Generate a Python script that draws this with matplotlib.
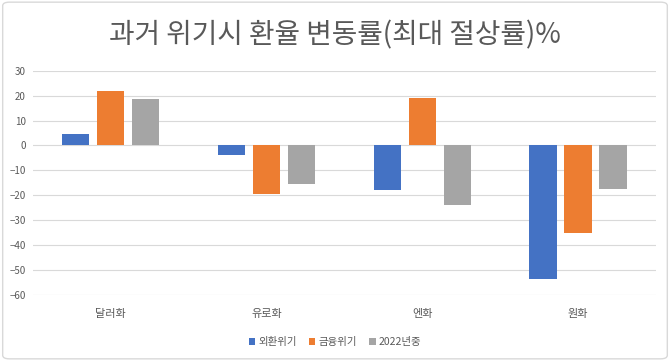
import numpy as np
import matplotlib.pyplot as plt
from matplotlib.patches import FancyBboxPatch

plt.rcParams['font.family'] = ['Noto Sans CJK KR', 'DejaVu Sans']

# 데이터
categories = ["달러화", "유로화", "엔화", "원화"]
series_names = ["외환위기", "금융위기", "2022년중"]
fx_crisis = [4.6, -3.9, -18.0, -53.8]
fin_crisis = [22.0, -19.5, 19.2, -35.0]
y2022 = [18.8, -15.4, -23.7, -17.3]
y_ticks = [30, 20, 10, 0, -10, -20, -30, -40, -50, -60]

colors = ["#4472C4", "#ED7D31", "#A5A5A5"]
text_color = "#595959"

fig = plt.figure(figsize=(6.7, 3.61), dpi=100)
ax = fig.add_axes([0.049, 0.183, 0.93, 0.621])

x = np.arange(len(categories))
width = 0.175
offset = 0.225
for i, (vals, name) in enumerate(zip([fx_crisis, fin_crisis, y2022], series_names)):
    ax.bar(x + (i - 1) * offset, vals, width, color=colors[i], label=name, zorder=3)

ax.set_ylim(-60, 30)
ax.set_xlim(-0.5, len(categories) - 0.5)
ax.set_yticks(y_ticks)
ax.set_xticks(x)
ax.set_xticklabels(categories)
ax.grid(axis="y", color="#D9D9D9", linewidth=0.8, zorder=0)
for s in ax.spines.values():
    s.set_visible(False)
ax.tick_params(axis="both", length=0, colors=text_color, labelsize=7)
ax.tick_params(axis="x", pad=10, labelsize=8)
ax.tick_params(axis="y", pad=5)

fig.text(0.5, 0.903, "과거 위기시 환율 변동률(최대 절상률)%", ha="center", va="center",
         fontsize=20, color=text_color)

leg = fig.legend(loc="center", bbox_to_anchor=(0.5, 0.053), ncol=3, frameon=False,
                 fontsize=7.5, handlelength=0.6, handleheight=0.6, handletextpad=0.3,
                 columnspacing=1.2, labelcolor=text_color)

border = FancyBboxPatch((0.004, 0.006), 0.992, 0.988, boxstyle="round,pad=0,rounding_size=0.01",
                        transform=fig.transFigure, fill=False, edgecolor="#D9D9D9", linewidth=1)
fig.patches.append(border)

fig.savefig("out.png", dpi=100)
